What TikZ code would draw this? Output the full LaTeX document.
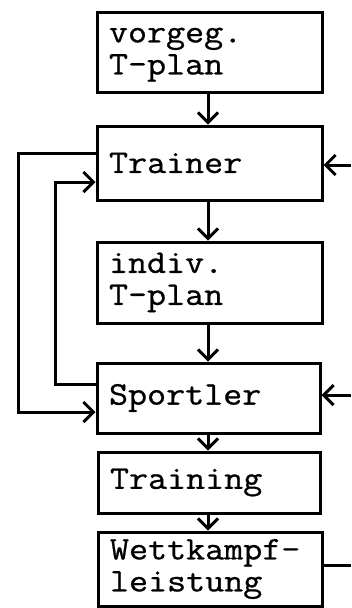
\documentclass[tikz,border=0pt]{standalone}
\usepackage{fontspec}
\newfontfamily\tw[FakeBold=0.8,FakeStretch=1.12]{Latin Modern Mono}
\newcommand\twolines[3]{\raisebox{#1}{\begin{tabular}{@{}l@{}}#2\\#3\end{tabular}}}
\usetikzlibrary{arrows.meta}
\begin{document}
\begin{tikzpicture}[x=1pt,y=-1pt,
  box/.style={draw,line width=3pt,rectangle,minimum width=#1,inner xsep=11pt,inner ysep=0pt,
    text width=#1-24pt,align=left,font=\tw\fontsize{33}{32}\selectfont},
  arr/.style={line width=3pt,-{Straight Barb[length=10pt,width=20pt,line width=3pt]}},
  ln/.style={line width=3pt}]
\useasboundingbox (0,0) rectangle (351,608);
\node[box=225pt,minimum height=80pt] (vorg) at (209.5,52) {\twolines{-6pt}{vorgeg.}{T-plan}};
\node[box=225pt,minimum height=74pt] (trainer) at (209.5,163) {Trainer};
\node[box=225pt,minimum height=81pt] (indiv) at (209.5,282.5) {\twolines{-5pt}{indiv.}{T-plan}};
\node[box=223pt,minimum height=70pt] (sportler) at (208.5,398) {\raisebox{4pt}{Sportler}};
\node[box=222pt,minimum height=61pt] (training) at (209,482.5) {\raisebox{-5pt}{Training}};
\node[box=224pt,minimum height=74pt] (wett) at (210,569) {\twolines{-1pt}{Wettkampf-}{leistung}};
% vertical flow
\draw[arr] (vorg.south -| 208,0) -- (trainer.north -| 208,0);
\draw[arr] (trainer.south -| 208,0) -- (indiv.north -| 208,0);
\draw[arr] (indiv.south -| 208,0) -- (sportler.north -| 208,0);
\draw[arr] (sportler.south -| 208,0) -- (training.north -| 208,0);
\draw[arr] (training.south -| 208,0) -- (wett.north -| 208,0);
% right inputs
\coordinate (rt) at (351,165);
\coordinate (rs) at (351,395);
\coordinate (rw) at (351,565);
\draw[arr] (rt) -- (rt -| trainer.east);
\draw[arr] (rs) -- (rs -| sportler.east);
\draw[ln] (wett.east |- rw) -- (rw);
% left loops
\draw[arr] (trainer.west |- 0,153) -- (18,153) |- (sportler.west |- 0,412);
\draw[arr] (sportler.west |- 0,384) -- (55,384) |- (trainer.west |- 0,182);
\end{tikzpicture}
\end{document}
